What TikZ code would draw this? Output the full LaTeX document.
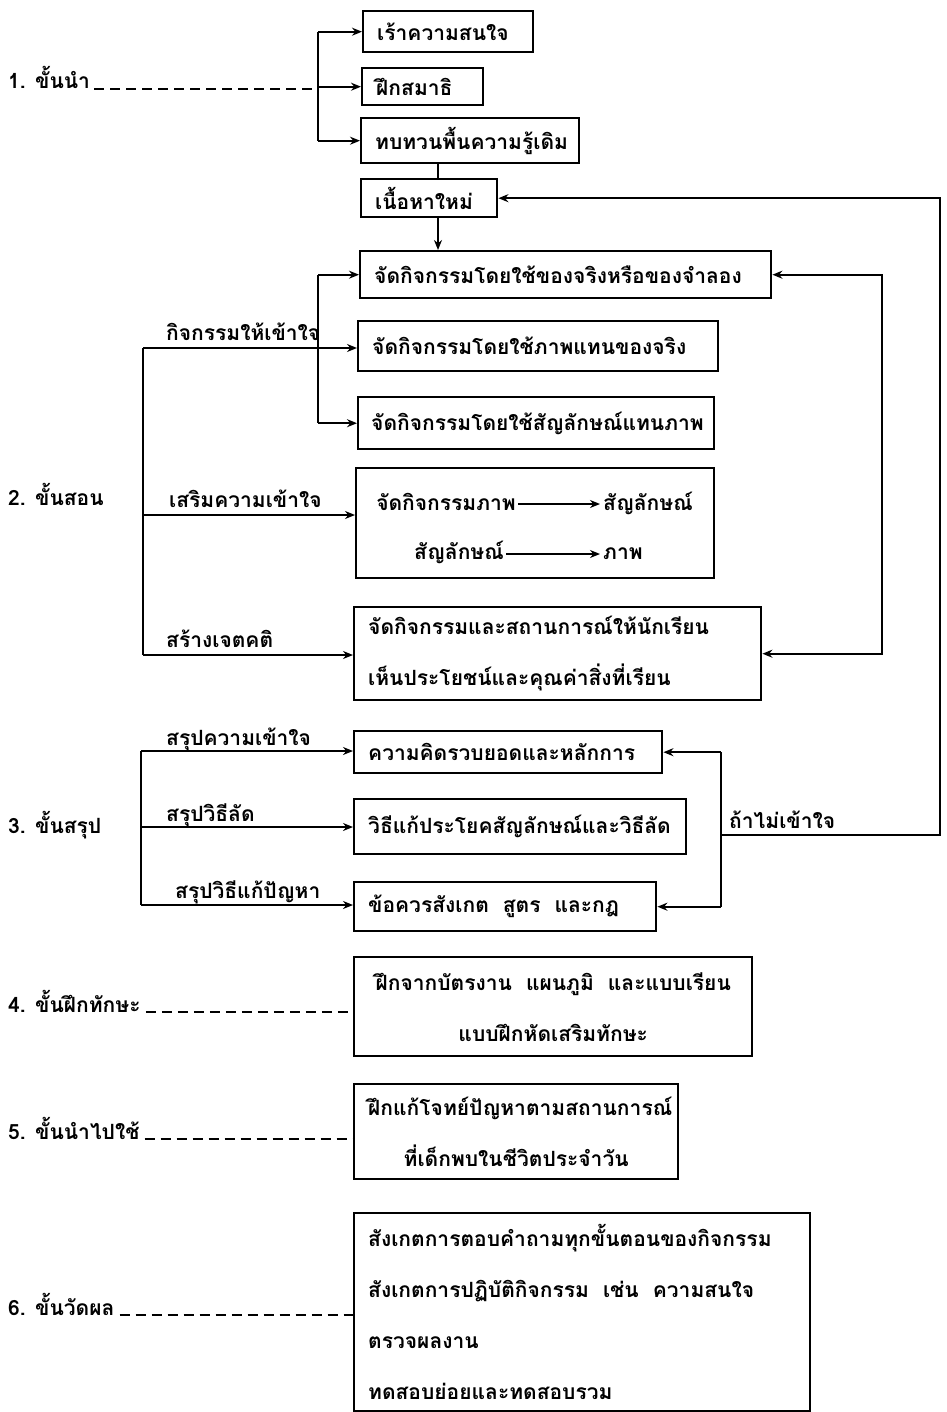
\documentclass[tikz,border=0pt]{standalone}
\usepackage{fontspec}
\setmainfont[Script=Thai]{Loma}
\usetikzlibrary{arrows.meta,calc}
\newcommand{\thsize}{\fontsize{21}{51}\selectfont\bfseries}
\begin{document}
\begin{tikzpicture}[x=1pt,y=-1pt,
  box/.style={draw,line width=2.4pt,anchor=north west,inner xsep=14pt,inner ysep=0pt,align=left,font=\thsize},
  lbl/.style={anchor=base west,inner sep=0pt,font=\thsize},
  ln/.style={line width=2.2pt},
  tip/.tip={Stealth[length=10pt,width=8pt]},
  arr/.style={line width=2.2pt,-tip},
  dsh/.style={line width=2pt,dash pattern=on 10pt off 6pt}]
\useasboundingbox (0,0) rectangle (946,1412);
\fill[white] (0,0) rectangle (946,1412);

% boxes
\node[box,text width=142pt,minimum height=41pt] (b11) at (362,10) {เร้าความสนใจ};
\node[box,text width=93pt,minimum height=37pt] (b12) at (361,67) {ฝึกสมาธิ};
\node[box,text width=190pt,minimum height=45pt] (b13) at (360,117) {ทบทวนพื้นความรู้เดิม};
\node[box,text width=108pt,minimum height=38pt] (bnew) at (360,178) {เนื้อหาใหม่};
\node[box,text width=383pt,minimum height=47pt] (b21) at (359,250) {จัดกิจกรรมโดยใช้ของจริงหรือของจำลอง};
\node[box,text width=332pt,minimum height=50pt] (b22) at (357,320) {จัดกิจกรรมโดยใช้ภาพแทนของจริง};
\node[box,text width=330pt,minimum height=52pt,inner xsep=13pt] (b23) at (357,396) {จัดกิจกรรมโดยใช้สัญลักษณ์แทนภาพ};
\node[box,minimum width=358pt,minimum height=110pt] (b24) at (355,467) {};
\node[box,text width=379pt,minimum height=93pt] (b25) at (353,606) {จัดกิจกรรมและสถานการณ์ให้นักเรียน\\เห็นประโยชน์และคุณค่าสิ่งที่เรียน};
\node[box,text width=280pt,minimum height=42pt] (b31) at (353,730) {ความคิดรวบยอดและหลักการ};
\node[box,text width=304pt,minimum height=55pt] (b32) at (353,798) {วิธีแก้ประโยคสัญลักษณ์และวิธีลัด};
\node[box,text width=274pt,minimum height=49pt] (b33) at (353,881) {ข้อควรสังเกต\ \ สูตร\ \ และกฎ};
\node[box,text width=370pt,minimum height=99pt,align=center] (b4) at (353,956) {ฝึกจากบัตรงาน\ \ แผนภูมิ\ \ และแบบเรียน\\แบบฝึกหัดเสริมทักษะ};
\node[box,text width=296pt,minimum height=95pt,align=center] (b5) at (353,1083) {ฝึกแก้โจทย์ปัญหาตามสถานการณ์\\ที่เด็กพบในชีวิตประจำวัน};
\node[box,text width=428pt,minimum height=198pt] (b6) at (353,1212) {สังเกตการตอบคำถามทุกขั้นตอนของกิจกรรม\\สังเกตการปฏิบัติกิจกรรม\ \ เช่น\ \ ความสนใจ\\ตรวจผลงาน\\ทดสอบย่อยและทดสอบรวม};

% inside b24
\node[lbl,anchor=base east] (t1) at (516,510) {จัดกิจกรรมภาพ};
\node[lbl] (t2) at (603,510) {สัญลักษณ์};
\node[lbl,anchor=base east] (t3) at (504,559) {สัญลักษณ์};
\node[lbl] (t4) at (603,559) {ภาพ};
\draw[arr] ([xshift=2pt,yshift=6pt]t1.base east) -- ([xshift=-3pt,yshift=6pt]t2.base west);
\draw[arr] ([xshift=2pt,yshift=5pt]t3.base east) -- ([xshift=-3pt,yshift=5pt]t4.base west);

% stage labels
\node[lbl] (s1) at (8,89) {1. ขั้นนำ};
\node[lbl] (s2) at (8,505) {2. ขั้นสอน};
\node[lbl] (s3) at (8,833) {3. ขั้นสรุป};
\node[lbl] (s4) at (8,1012) {4. ขั้นฝึกทักษะ};
\node[lbl] (s5) at (8,1139) {5. ขั้นนำไปใช้};
\node[lbl] (s6) at (8,1315) {6. ขั้นวัดผล};

% connector labels
\node[lbl] (c1) at (166,340) {กิจกรรมให้เข้าใจ};
\node[lbl] (c2) at (169,507) {เสริมความเข้าใจ};
\node[lbl] (c3) at (166,647) {สร้างเจตคติ};
\node[lbl] (d1) at (166,745) {สรุปความเข้าใจ};
\node[lbl] (d2) at (166,821) {สรุปวิธีลัด};
\node[lbl] (d3) at (175,898) {สรุปวิธีแก้ปัญหา};
\node[lbl] (nf) at (729,828) {ถ้าไม่เข้าใจ};

% coordinates
\coordinate (j1) at (318,89);
\coordinate (k) at (318,348);
\coordinate (m1) at (143,348);
\coordinate (m2) at (143,515);
\coordinate (m3) at (143,655);
\coordinate (n1) at (141,751);
\coordinate (n2) at (141,827);
\coordinate (n3) at (141,905);
\coordinate (r3) at (721,835);
\coordinate (rr) at (940,835);
\coordinate (rc) at (882,0);
\coordinate (xa) at (438,0);

% stage 1
\draw[dsh] ([xshift=4pt]s1.base east) -- (j1);
\draw[ln] (j1 |- b11.west) -- (j1 |- b13.west);
\draw[arr] (j1 |- b11.west) -- (b11.west);
\draw[arr] (j1 |- b12.west) -- (b12.west);
\draw[arr] (j1 |- b13.west) -- (b13.west);
\draw[ln] (b13.south -| xa) -- (bnew.north -| xa);
\draw[arr] (bnew.south -| xa) -- (b21.north -| xa);

% stage 2
\draw[ln] (k |- b21.west) -- (k |- b23.west);
\draw[arr] (k |- b21.west) -- (b21.west);
\draw[arr] (k |- b23.west) -- (b23.west);
\draw[ln] (m1) -- (m3);
\draw[arr] (m1) -- (m1 -| b22.west);
\draw[arr] (m2) -- (m2 -| b24.west);
\draw[arr] (m3) -- (m3 -| b25.west);
\draw[ln,tip-tip] (b21.east) -- (b21.east -| rc) -- (b25.east -| rc) -- (b25.east);

% stage 3
\draw[ln] (n1) -- (n3);
\draw[arr] (n1) -- (n1 -| b31.west);
\draw[arr] (n2) -- (n2 -| b32.west);
\draw[arr] (n3) -- (n3 -| b33.west);
\draw[ln] (r3 |- b31.east) -- (r3 |- b33.east);
\draw[arr] (r3 |- b31.east) -- (b31.east);
\draw[arr] (r3 |- b33.east) -- (b33.east);
\draw[arr] (r3) -- (rr) |- (bnew.east);

% stages 4-6
\draw[dsh] ([xshift=5pt]s4.base east) -- (s4.base east -| b4.west);
\draw[dsh] ([xshift=5pt]s5.base east) -- (s5.base east -| b5.west);
\draw[dsh] ([xshift=5pt]s6.base east) -- (s6.base east -| b6.west);
\end{tikzpicture}
\end{document}
